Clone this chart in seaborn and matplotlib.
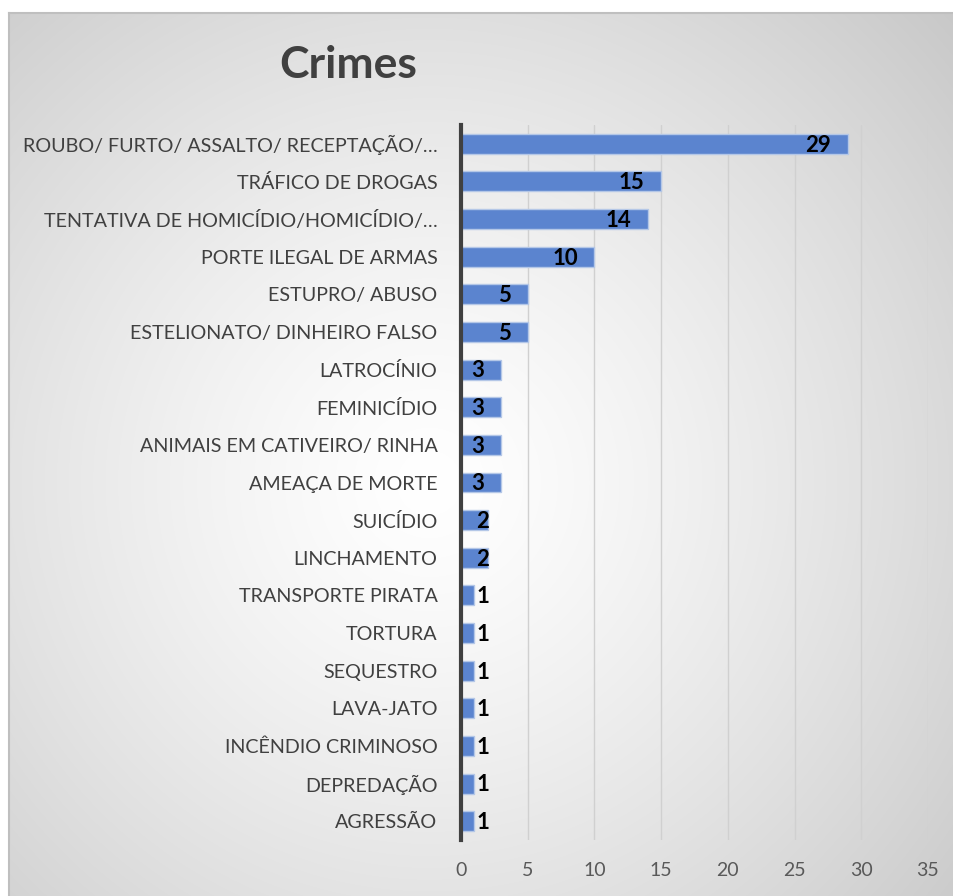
import numpy as np
import matplotlib
matplotlib.use("Agg")
import matplotlib.pyplot as plt
import seaborn as sns

crimes = [
    "ROUBO/ FURTO/ ASSALTO/ RECEPTAÇÃO/…",
    "TRÁFICO DE DROGAS",
    "TENTATIVA DE HOMICÍDIO/HOMICÍDIO/…",
    "PORTE ILEGAL DE ARMAS",
    "ESTUPRO/ ABUSO",
    "ESTELIONATO/ DINHEIRO FALSO",
    "LATROCÍNIO",
    "FEMINICÍDIO",
    "ANIMAIS EM CATIVEIRO/ RINHA",
    "AMEAÇA DE MORTE",
    "SUICÍDIO",
    "LINCHAMENTO",
    "TRANSPORTE PIRATA",
    "TORTURA",
    "SEQUESTRO",
    "LAVA-JATO",
    "INCÊNDIO CRIMINOSO",
    "DEPREDAÇÃO",
    "AGRESSÃO",
]
counts = [29, 15, 14, 10, 5, 5, 3, 3, 3, 3, 2, 2, 1, 1, 1, 1, 1, 1, 1]
x_ticks = [0, 5, 10, 15, 20, 25, 30, 35]

sns.set_style("white")
plt.rcParams["font.family"] = ["Lato", "DejaVu Sans"]

W, H = 954, 896
fig = plt.figure(figsize=(W / 100, H / 100), dpi=100)

# radial gradient background of the chart area
bg = fig.add_axes([9 / W, 0, 1 - 9 / W, 1 - 13 / H], zorder=0)
yy, xx = np.mgrid[0:883, 0:945]
cx, cy = 420, 470
d = np.hypot(xx - cx, yy - cy) / np.hypot(540, 470)
shade = 1 - 0.22 * np.clip(d, 0, 1) ** 1.3
bg.imshow(np.dstack([shade] * 3), aspect="auto", interpolation="bilinear")
bg.set_xticks([])
bg.set_yticks([])
for s in ["right", "bottom"]:
    bg.spines[s].set_visible(False)
for s in ["top", "left"]:
    bg.spines[s].set_color("#bfbfbf")
    bg.spines[s].set_linewidth(1.5)

ax = fig.add_axes([461 / W, 56 / H, 467 / W, 715 / H], zorder=1)
ax.patch.set_alpha(0)

sns.barplot(x=counts, y=crimes, orient="h", color="#5b84cf", saturation=1,
            width=0.53, edgecolor="#b4c7e7", linewidth=1, ax=ax, zorder=3)

ax.set_xlim(0, 35)
ax.set_ylim(18.5, -0.5)
ax.set_xticks(x_ticks)
ax.xaxis.grid(True, color="#d0d0d0", linewidth=1, zorder=0)
ax.set_axisbelow(True)
ax.tick_params(axis="both", length=0)
ax.tick_params(axis="y", pad=17, labelsize=14.25, labelcolor="#404040")
ax.tick_params(axis="x", pad=16, labelsize=14, labelcolor="#595959")
ax.set_xlabel("")
ax.set_ylabel("")
for s in ["top", "right", "bottom"]:
    ax.spines[s].set_visible(False)
ax.spines["left"].set_color("#404040")
ax.spines["left"].set_linewidth(3)
ax.spines["left"].set_zorder(5)

for i, v in enumerate(counts):
    if v >= 3:
        ax.annotate(str(v), (v, i), xytext=(-12, -1), textcoords="offset points",
                    ha="right", va="center", fontsize=16, fontweight="bold",
                    color="black", zorder=6)
    else:
        ax.annotate(str(v), (0, i), xytext=(11, -1), textcoords="offset points",
                    ha="left", va="center", fontsize=16, fontweight="bold",
                    color="black", zorder=6)

fig.text(348 / W, 1 - 65 / H, "Crimes", ha="center", va="center",
         fontsize=32, fontweight="bold", color="#404040")

fig.savefig("out.png", dpi=100)
